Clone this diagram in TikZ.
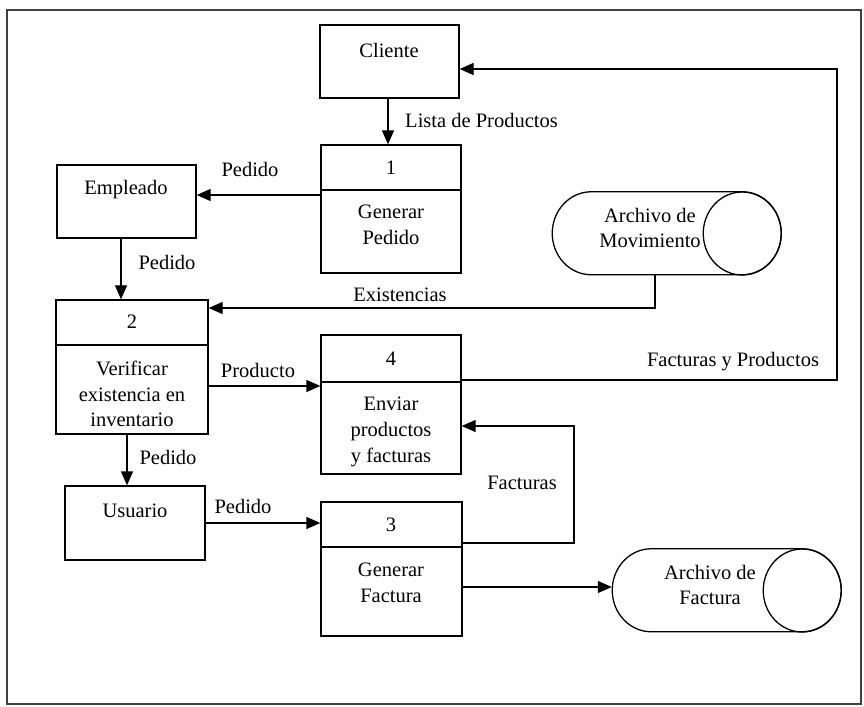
\documentclass[tikz,border=0pt]{standalone}
\usepackage{fontspec}
\setmainfont{Liberation Serif}
\usetikzlibrary{arrows.meta,fit}

\tikzset{
    box/.style={draw, line width=1.1pt, inner sep=0pt},
    store/.style={inner sep=0pt},
    flow/.style={-{Triangle[length=0.42cm, width=0.36cm]}, line width=1.1pt},
    lbl/.style={font=\fontsize{17.5}{22}\selectfont, inner sep=0pt, align=center},
    endcap/.style={x radius=1.17cm, y radius=1.245cm},
}

\begin{document}
\begin{tikzpicture}[x=0.03cm, y=0.03cm]
    \useasboundingbox (0,0) rectangle (864,-707);
    \draw[line width=1.3pt, black!75] (7,-10) rectangle (861,-704);

    % entidades
    \node[box, fit={(320,-25) (459,-98)}] (cli) {};
    \node[lbl] (cliT) at (389,-50) {Cliente};
    \node[box, fit={(57,-165) (196,-238)}] (emp) {};
    \node[lbl] (empT) at (126,-190) {Empleado};
    \node[box, fit={(65,-486) (205,-560)}] (usu) {};
    \node[lbl] (usuT) at (135,-511) {Usuario};

    % procesos
    \node[box, fit={(321,-145) (461,-273)}] (p1) {};
    \draw[line width=1.1pt] (p1.west |- 0,-190) -- (p1.east |- 0,-190);
    \node[lbl] (p1N) at (391,-168) {1};
    \node[lbl] (p1T) at (391,-225) {Generar\\Pedido};

    \node[box, fit={(56,-300) (208,-434)}] (p2) {};
    \draw[line width=1.1pt] (p2.west |- 0,-345) -- (p2.east |- 0,-345);
    \node[lbl] (p2N) at (132,-322) {2};
    \node[lbl] (p2T) at (132,-394) {Verificar\\existencia en\\inventario};

    \node[box, fit={(321,-335) (461,-474)}] (p4) {};
    \draw[line width=1.1pt] (p4.west |- 0,-382) -- (p4.east |- 0,-382);
    \node[lbl] (p4N) at (391,-359) {4};
    \node[lbl] (p4T) at (391,-432) {Enviar\\productos\\y facturas};

    \node[box, fit={(321,-502) (462,-636)}] (p3) {};
    \draw[line width=1.1pt] (p3.west |- 0,-547) -- (p3.east |- 0,-547);
    \node[lbl] (p3N) at (391,-525) {3};
    \node[lbl] (p3T) at (391,-583) {Generar\\Factura};

    % almacenes
    \node[store, fit={(552,-192) (781,-275)}] (mov) {};
    \draw[line width=1.1pt] (mov.north east) ++(-39,0) -- ++(-151,0)
        arc[start angle=90, end angle=270, endcap] -- ++(151,0)
        arc[start angle=-90, end angle=90, endcap];
    \draw[line width=1.1pt] (mov.east) ++(-39,0) ellipse[endcap];
    \node[lbl] (movT) at (650,-228) {Archivo de\\Movimiento};

    \node[store, fit={(612,-549) (841,-632)}] (fac) {};
    \draw[line width=1.1pt] (fac.north east) ++(-39,0) -- ++(-151,0)
        arc[start angle=90, end angle=270, endcap] -- ++(151,0)
        arc[start angle=-90, end angle=90, endcap];
    \draw[line width=1.1pt] (fac.east) ++(-39,0) ellipse[endcap];
    \node[lbl] (facT) at (710,-585) {Archivo de\\Factura};

    % flujos
    \draw[flow] (cli.south -| 388,0) -- (p1.north -| 388,0);
    \node[lbl, anchor=west] (fLista) at (405,-120) {Lista de Productos};
    \draw[flow] (p1.west |- 0,-195) -- (emp.east |- 0,-195);
    \node[lbl] (fPed1) at (250,-169) {Pedido};
    \draw[flow] (emp.south -| 121,0) -- (p2.north -| 121,0);
    \node[lbl] (fPed2) at (167,-262) {Pedido};
    \draw[flow] (mov.south -| 655,0) -- (655,-308) -- (p2.east |- 0,-308);
    \node[lbl] (fExis) at (400,-295) {Existencias};
    \draw[flow] (p2.east |- 0,-386) -- (p4.west |- 0,-386);
    \node[lbl] (fProd) at (258,-370) {Producto};
    \draw[flow] (p4.east |- 0,-380) -- (837,-380) -- (837,-69) -- (cli.east |- 0,-69);
    \node[lbl] (fFyP) at (733,-362) {Facturas y Productos};
    \draw[flow] (p2.south -| 127,0) -- (usu.north -| 127,0);
    \node[lbl] (fPed3) at (168,-457) {Pedido};
    \draw[flow] (usu.east |- 0,-523) -- (p3.west |- 0,-523);
    \node[lbl] (fPed4) at (243,-506) {Pedido};
    \draw[flow] (p3.east |- 0,-543) -- (574,-543) -- (574,-426) -- (p4.east |- 0,-426);
    \node[lbl] (fFact) at (522,-483) {Facturas};
    \draw[flow] (p3.east |- 0,-587) -- (fac.west |- 0,-587);
\end{tikzpicture}
\end{document}
